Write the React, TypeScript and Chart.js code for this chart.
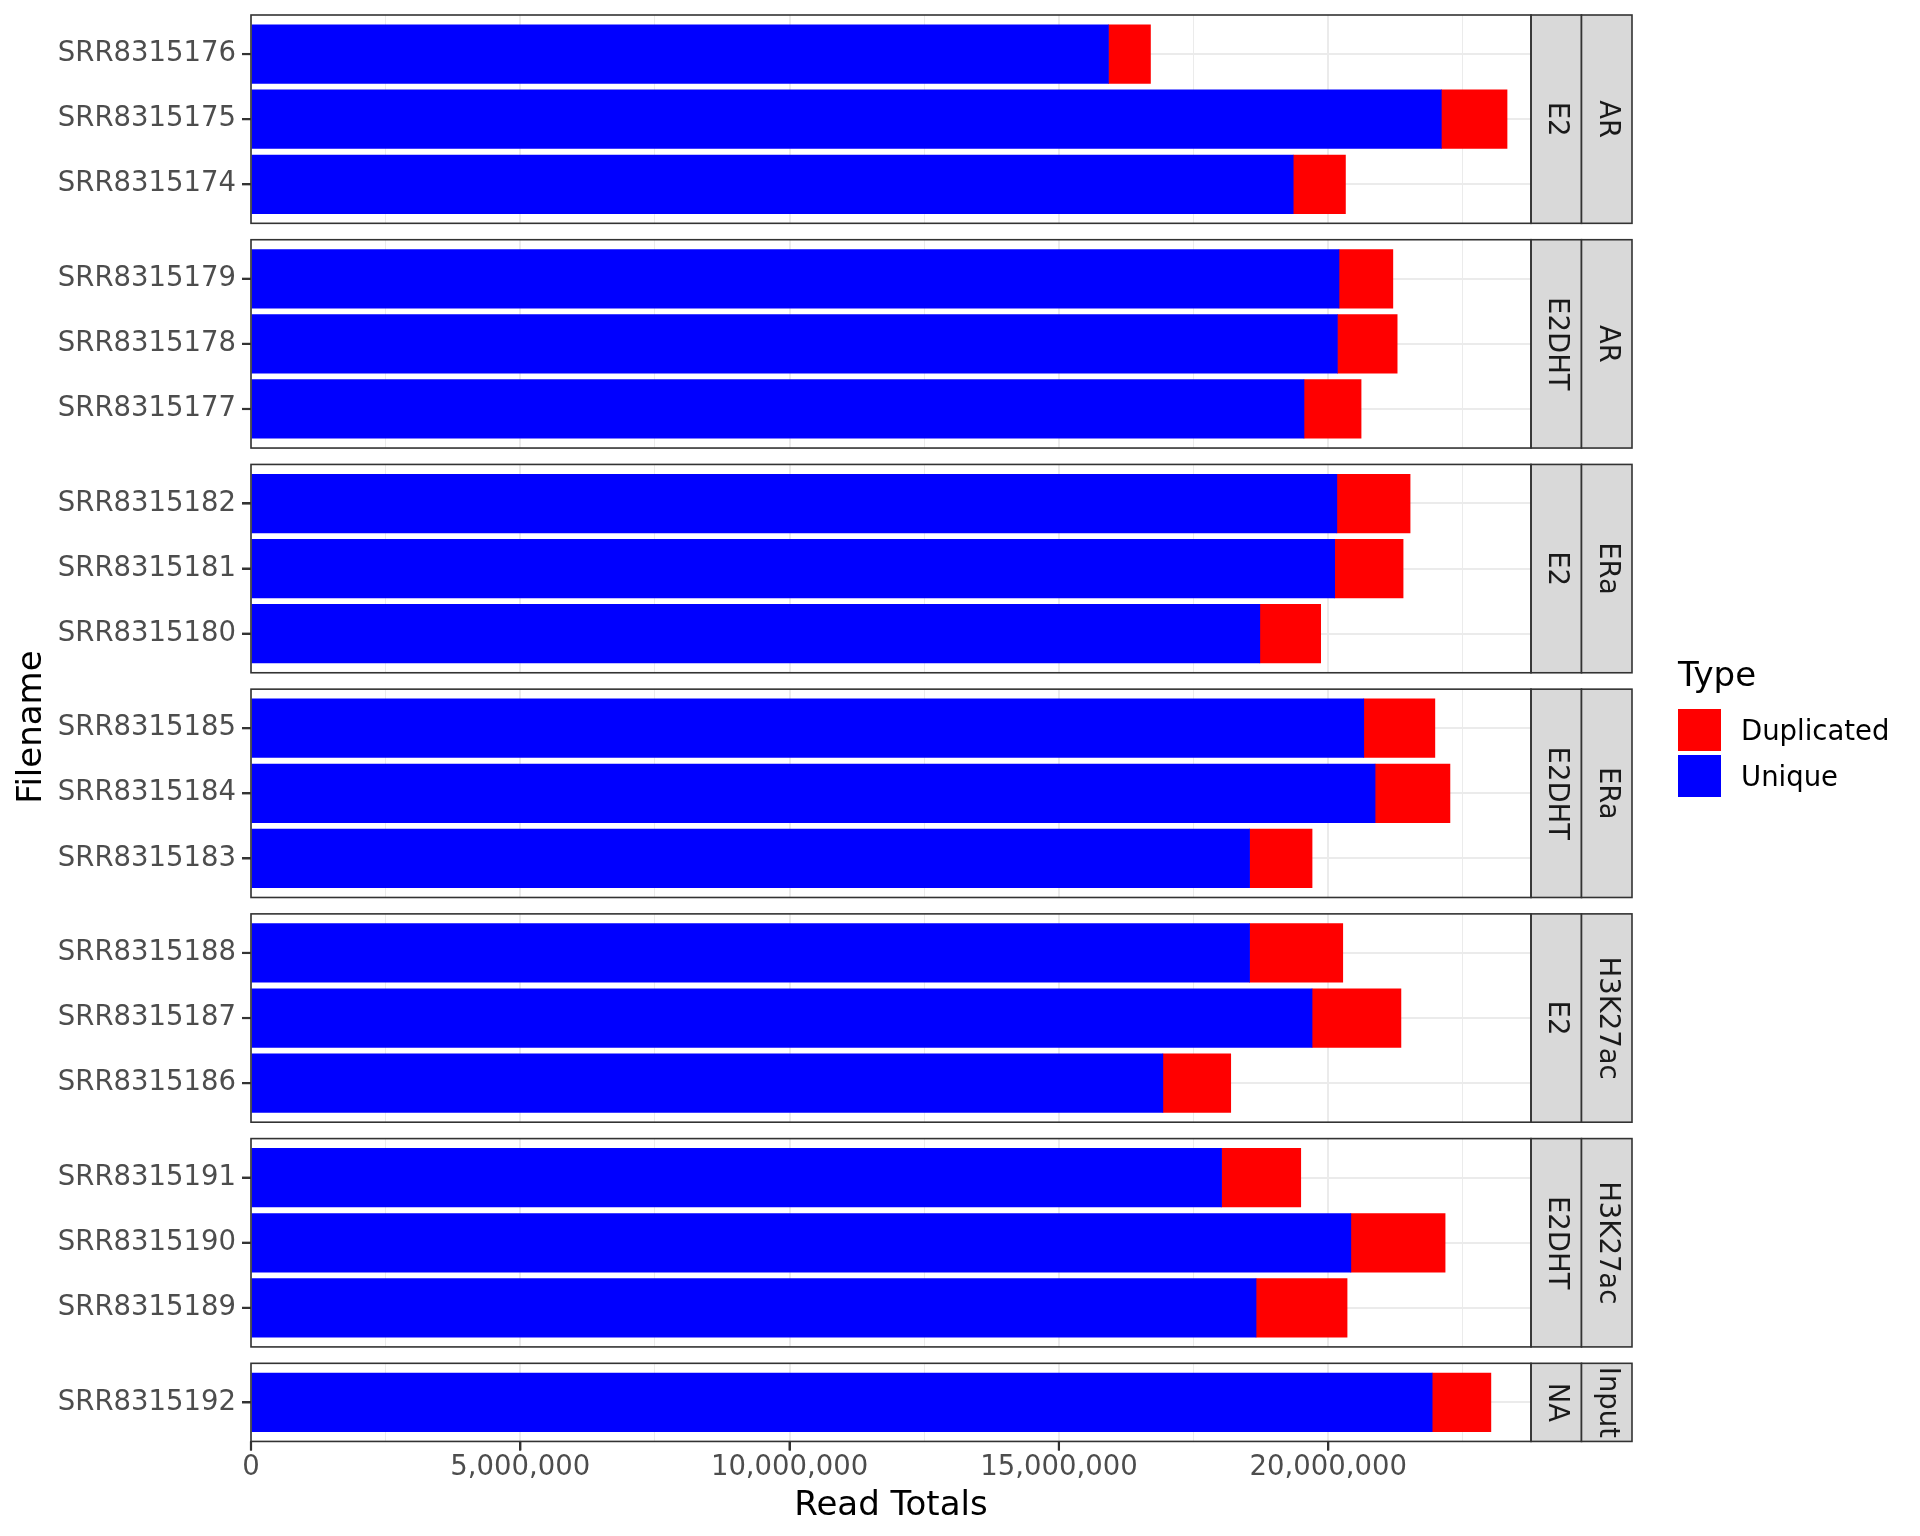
import React, { useEffect, useRef } from 'react';
import { Chart, registerables } from 'chart.js';

Chart.register(...registerables);

// ---------------- data ----------------
const filenames = [
  'SRR8315176', 'SRR8315175', 'SRR8315174',
  'SRR8315179', 'SRR8315178', 'SRR8315177',
  'SRR8315182', 'SRR8315181', 'SRR8315180',
  'SRR8315185', 'SRR8315184', 'SRR8315183',
  'SRR8315188', 'SRR8315187', 'SRR8315186',
  'SRR8315191', 'SRR8315190', 'SRR8315189',
  'SRR8315192',
];
const targets = [
  'AR', 'AR', 'AR',
  'AR', 'AR', 'AR',
  'ERa', 'ERa', 'ERa',
  'ERa', 'ERa', 'ERa',
  'H3K27ac', 'H3K27ac', 'H3K27ac',
  'H3K27ac', 'H3K27ac', 'H3K27ac',
  'Input',
];
const treatments = [
  'E2', 'E2', 'E2',
  'E2DHT', 'E2DHT', 'E2DHT',
  'E2', 'E2', 'E2',
  'E2DHT', 'E2DHT', 'E2DHT',
  'E2', 'E2', 'E2',
  'E2DHT', 'E2DHT', 'E2DHT',
  'NA',
];
const uniqueReads = [
  15920000, 22100000, 19350000,
  20200000, 20170000, 19550000,
  20160000, 20120000, 18730000,
  20660000, 20870000, 18540000,
  18540000, 19700000, 16930000,
  18020000, 20420000, 18660000,
  21930000,
];
const duplicatedReads = [
  780000, 1220000, 970000,
  1000000, 1110000, 1060000,
  1360000, 1270000, 1130000,
  1320000, 1390000, 1160000,
  1730000, 1650000, 1260000,
  1470000, 1750000, 1690000,
  1090000,
];
const xTickValues = [0, 2500000, 5000000, 7500000, 10000000, 12500000, 15000000, 17500000, 20000000, 22500000];
const xMajorStep = 5000000;
const X_MAX = 23765000;
const legendTypes = ['Duplicated', 'Unique'];
const legendColors = ['#FF0000', '#0000FF'];
const typeColors = { Unique: '#0000FF', Duplicated: '#FF0000' };

// ---------------- layout ----------------
const FONT = '"DejaVu Sans", "Noto Sans", sans-serif';
const TOP0 = 15;
const UNIT = 65.1;
const GAP = 16.4;
const LEFT = 251;
const RIGHT = 1531;
const STRIP_W = 50.5;
const TICK_LEN = 9;
const W = 1920;
const H = 1536;

type Panel = { rows: number[]; target: string; treatment: string; top: number; height: number; last: boolean };

function buildPanels(): Panel[] {
  const panels: Panel[] = [];
  filenames.forEach((_, i) => {
    const p = panels[panels.length - 1];
    if (p && p.target === targets[i] && p.treatment === treatments[i]) p.rows.push(i);
    else panels.push({ rows: [i], target: targets[i], treatment: treatments[i], top: 0, height: 0, last: false });
  });
  let y = TOP0;
  panels.forEach((p, k) => {
    p.top = y;
    p.height = (p.rows.length + 0.2) * UNIT;
    p.last = k === panels.length - 1;
    y += p.height + GAP;
  });
  return panels;
}

const isMajor = (v: number) => Math.abs(v % xMajorStep) < 1;

const panelDecor = {
  id: 'panelDecor',
  afterDraw(chart: any, _args: any, opts: any) {
    const { ctx, chartArea: a } = chart;
    ctx.save();
    (opts.strips || []).forEach((s: string, k: number) => {
      const x0 = a.right + k * STRIP_W;
      ctx.fillStyle = '#D9D9D9';
      ctx.fillRect(x0, a.top, STRIP_W, a.bottom - a.top);
      ctx.strokeStyle = '#333333';
      ctx.lineWidth = 1.6;
      ctx.strokeRect(x0, a.top, STRIP_W, a.bottom - a.top);
      ctx.save();
      ctx.beginPath();
      ctx.rect(x0, a.top, STRIP_W, a.bottom - a.top);
      ctx.clip();
      ctx.translate(x0 + STRIP_W / 2, (a.top + a.bottom) / 2);
      ctx.rotate(Math.PI / 2);
      ctx.fillStyle = '#1A1A1A';
      ctx.font = `27.5px ${FONT}`;
      ctx.textAlign = 'center';
      ctx.textBaseline = 'middle';
      ctx.fillText(s, 0, 0);
      ctx.restore();
    });
    // axis tick marks, placed through the chart's own scales
    ctx.fillStyle = '#333333';
    const ys = chart.scales.y;
    for (let k = 0; k < ys.ticks.length; k++) {
      const py = ys.getPixelForTick(k);
      ctx.fillRect(a.left - TICK_LEN, py - 1.1, TICK_LEN, 2.2);
    }
    if (opts.xTicks) {
      const xs = chart.scales.x;
      for (let k = 0; k < xs.ticks.length; k++) {
        if (!isMajor(xs.ticks[k].value)) continue;
        const px = xs.getPixelForTick(k);
        ctx.fillRect(px - 1.1, a.bottom, 2.2, TICK_LEN);
      }
    }
    // panel border
    ctx.strokeStyle = '#333333';
    ctx.lineWidth = 1.6;
    ctx.strokeRect(a.left, a.top, a.right - a.left, a.bottom - a.top);
    ctx.restore();
  },
};

function PanelChart({ panel }: { panel: Panel }) {
  const ref = useRef<HTMLCanvasElement | null>(null);
  const canvasTop = Math.floor(panel.top) - 4;
  const padTop = panel.top - canvasTop;
  const canvasH = panel.last ? H - canvasTop : Math.ceil(panel.height + padTop + 4);
  const bottomSpace = canvasH - padTop - panel.height;

  useEffect(() => {
    const n = panel.rows.length;
    const labels = panel.rows.map((r) => filenames[r]);
    const barThickness = 0.9 * UNIT;
    const chart = new Chart(ref.current as HTMLCanvasElement, {
      type: 'bar',
      data: {
        datasets: [
          {
            label: 'Unique',
            data: panel.rows.map((r, k) => ({ x: uniqueReads[r], y: k })),
            backgroundColor: typeColors.Unique,
            borderWidth: 0,
            barThickness,
          },
          {
            label: 'Duplicated',
            data: panel.rows.map((r, k) => ({ x: duplicatedReads[r], y: k })),
            backgroundColor: typeColors.Duplicated,
            borderWidth: 0,
            barThickness,
          },
        ],
      } as any,
      options: {
        indexAxis: 'y',
        animation: false,
        responsive: false,
        maintainAspectRatio: false,
        events: [],
        layout: { padding: { top: padTop, right: W - RIGHT, bottom: 0, left: 0 } },
        plugins: {
          legend: { display: false },
          tooltip: { enabled: false },
          panelDecor: { strips: [panel.treatment, panel.target], xTicks: panel.last },
        } as any,
        scales: {
          x: {
            type: 'linear',
            stacked: true,
            min: 0,
            max: X_MAX,
            offset: false,
            afterBuildTicks: (s: any) => {
              s.ticks = xTickValues.map((v) => ({ value: v }));
            },
            afterFit: (s: any) => {
              s.height = bottomSpace;
              s.paddingLeft = 0;
              s.paddingRight = 0;
            },
            border: { display: false },
            grid: {
              offset: false,
              color: '#EBEBEB',
              lineWidth: (c: any) => (c.tick && isMajor(c.tick.value) ? 2 : 1),
              drawTicks: panel.last,
              tickLength: TICK_LEN,
              tickWidth: 2,
              tickColor: (c: any) => (c.tick && isMajor(c.tick.value) ? '#333333' : 'rgba(0,0,0,0)'),
            },
            ticks: {
              display: panel.last,
              autoSkip: false,
              maxRotation: 0,
              padding: 1,
              color: '#4D4D4D',
              font: { family: FONT, size: 27.5 },
              callback: (v: any) => (isMajor(Number(v)) ? Number(v).toLocaleString('en-US') : ''),
            },
            title: {
              display: panel.last,
              text: 'Read Totals',
              color: '#000000',
              font: { family: FONT, size: 34 },
              padding: { top: 0, bottom: 9.5 },
            },
          },
          y: {
            type: 'linear',
            stacked: true,
            reverse: true,
            offset: false,
            min: -0.6,
            max: n - 0.4,
            afterBuildTicks: (s: any) => {
              s.ticks = labels.map((_, k) => ({ value: k }));
            },
            afterFit: (s: any) => {
              s.width = LEFT;
              s.paddingTop = 0;
              s.paddingBottom = 0;
            },
            border: { display: false },
            grid: {
              offset: false,
              color: '#EBEBEB',
              lineWidth: 2,
              drawTicks: true,
              tickLength: TICK_LEN,
              tickWidth: 2,
              tickColor: '#333333',
            },
            ticks: {
              autoSkip: false,
              padding: 6,
              color: '#4D4D4D',
              font: { family: FONT, size: 27.5 },
              callback: (v: any) => labels[Math.round(Number(v))] ?? '',
            },
          },
        },
      } as any,
      plugins: [panelDecor as any],
    });
    return () => chart.destroy();
  }, []);

  return (
    <canvas
      ref={ref}
      width={W}
      height={canvasH}
      style={{ position: 'absolute', left: 0, top: canvasTop, width: W, height: canvasH, display: 'block' }}
    />
  );
}

export default function App() {
  const panels = buildPanels();
  return (
    <div
      style={{
        position: 'fixed',
        left: 0,
        top: 0,
        width: W,
        height: H,
        background: '#FFFFFF',
        overflow: 'hidden',
        fontFamily: FONT,
      }}
    >
      {panels.map((p, k) => (
        <PanelChart key={k} panel={p} />
      ))}
      <div
        style={{
          position: 'absolute',
          left: 29 - 150,
          top: 727 - 17,
          width: 300,
          height: 34,
          lineHeight: '34px',
          fontSize: 34,
          textAlign: 'center',
          color: '#000000',
          transform: 'rotate(-90deg)',
          whiteSpace: 'nowrap',
        }}
      >
        Filename
      </div>
      <div
        style={{
          position: 'absolute',
          left: 1678,
          top: 657,
          fontSize: 34,
          lineHeight: '34px',
          color: '#000000',
          whiteSpace: 'nowrap',
        }}
      >
        Type
      </div>
      {legendTypes.map((t, k) => (
        <React.Fragment key={t}>
          <div
            style={{
              position: 'absolute',
              left: 1678,
              top: 709 + k * 46,
              width: 43,
              height: 42,
              background: legendColors[k],
            }}
          />
          <div
            style={{
              position: 'absolute',
              left: 1741,
              top: 716.7 + k * 46,
              fontSize: 27.5,
              lineHeight: '27.5px',
              color: '#000000',
              whiteSpace: 'nowrap',
            }}
          >
            {t}
          </div>
        </React.Fragment>
      ))}
    </div>
  );
}
